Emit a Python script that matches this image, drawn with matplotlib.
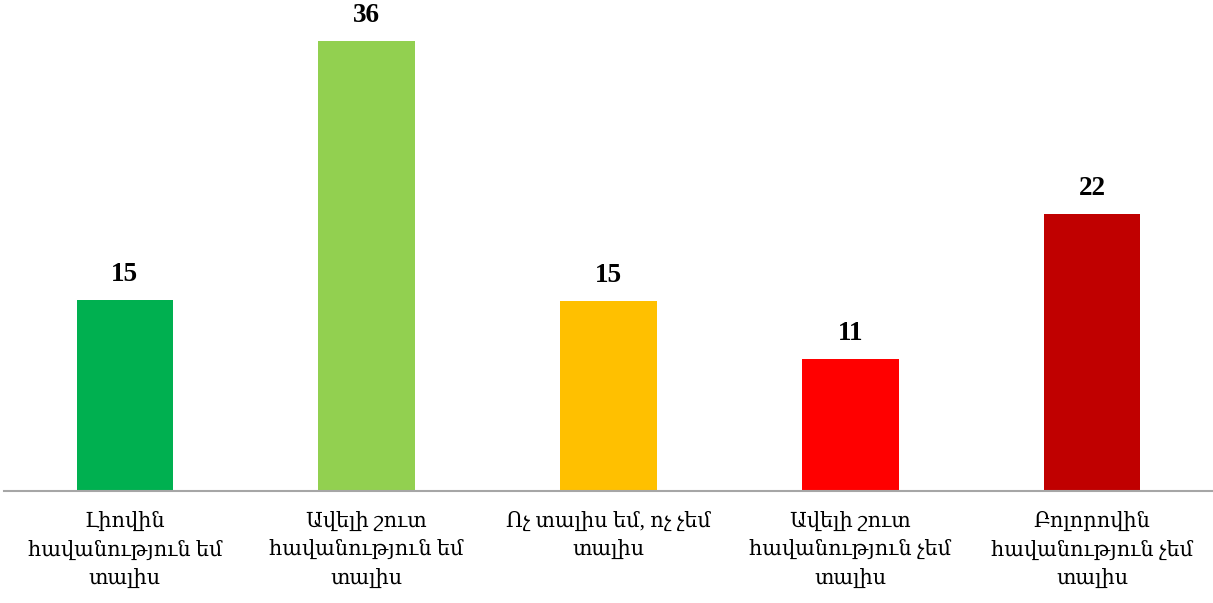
import matplotlib
matplotlib.use("Agg")
import matplotlib.pyplot as plt

categories = [
    "Լիովին\nհավանություն եմ\nտալիս",
    "Ավելի շուտ\nհավանություն եմ\nտալիս",
    "Ոչ տալիս եմ, ոչ չեմ\nտալիս",
    "Ավելի շուտ\nհավանություն չեմ\nտալիս",
    "Բոլորովին\nհավանություն չեմ\nտալիս",
]
values = [15.3, 36.0, 15.2, 10.6, 22.2]
colors = ["#00B050", "#92D050", "#FFC000", "#FF0000", "#C00000"]

W, H = 1213, 603
fig = plt.figure(figsize=(W / 100, H / 100), dpi=100)
base = 491
left = 4
ymax = 40
unit = 450 / 36.0
ax = fig.add_axes([left / W, 1 - base / H, (W - left) / W, ymax * unit / H])
x = list(range(len(categories)))
ax.bar(x, values, width=0.4, color=colors, clip_on=False)
ax.set_xlim(-0.5, len(categories) - 0.5)
ax.set_ylim(0, ymax)
for s in ["top", "right", "left"]:
    ax.spines[s].set_visible(False)
ax.spines["bottom"].set_color("#A6A6A6")
ax.spines["bottom"].set_linewidth(1.5)
ax.set_yticks([])
ax.set_xticks(x)
ax.set_xticklabels(categories, family=["Liberation Serif", "DejaVu Serif"],
                   fontsize=15, fontweight="medium", linespacing=1.55)
ax.tick_params(axis="x", length=0, pad=15)
for xi, v in zip(x, values):
    ax.annotate(f"{v:.0f}", (xi, v), xytext=(0, 9), textcoords="offset points",
                ha="center", va="bottom", fontsize=19.5, fontweight="bold",
                family=["Liberation Serif", "DejaVu Serif"], annotation_clip=False)
fig.savefig("out.png", dpi=100)
